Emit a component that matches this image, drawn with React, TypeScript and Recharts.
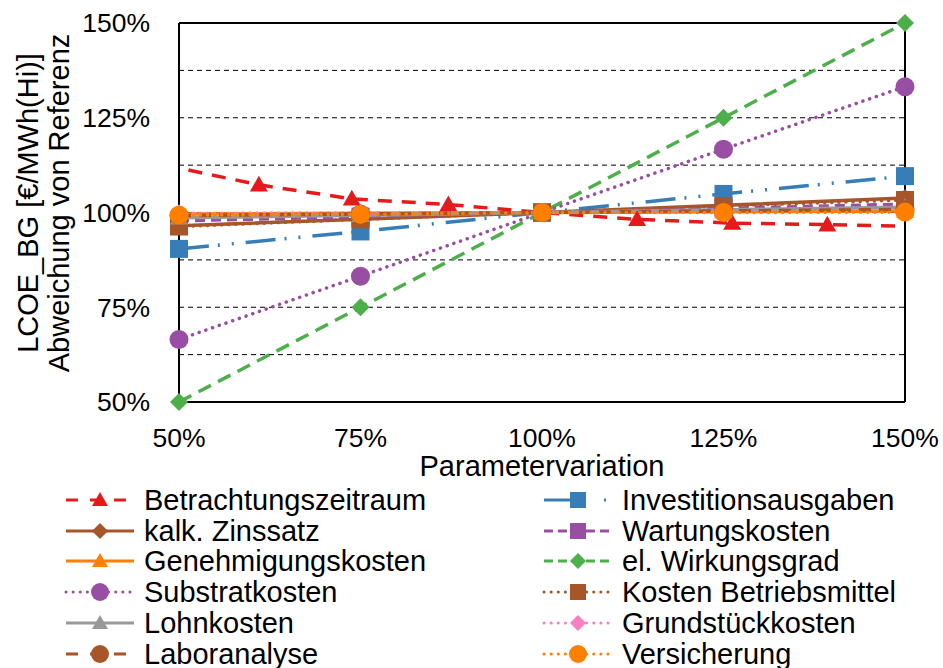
import React from 'react';
import { LineChart, Line, XAxis, YAxis, CartesianGrid, ReferenceLine } from 'recharts';

// Achsen
const xTicks = [50, 75, 100, 125, 150];
const yTicks = [50, 62.5, 75, 87.5, 100, 112.5, 125, 137.5, 150];
const xStd = [50, 75, 100, 125, 150];

// Betrachtungszeitraum hat eigene x-Stützstellen (Enden ohne Marker)
const betrachtungX = [51.3, 61, 73.8, 87.1, 100, 113.1, 126.2, 139.3, 149];
const betrachtungY = [111.2, 107.3, 103.6, 102.1, 100, 98.2, 97.2, 96.8, 96.4];

const investitionY = [90.4, 95, 100, 104.9, 109.6];
const zinssatzY = [96.5, 98.2, 100, 101.9, 103.8];
const wartungY = [97.8, 98.9, 100, 101.1, 102.2];
const genehmigungY = [99.6, 99.8, 100, 100.2, 100.4];
const wirkungsgradY = [50, 75, 100, 125, 150];
const substratY = [66.5, 83.2, 100, 116.7, 133.2];
const betriebsmittelY = [96.3, 98.2, 100, 101.7, 103.3];
const lohnY = [98.6, 99.3, 100, 100.7, 101.4];
const grundstueckY = [99.8, 99.9, 100, 100.1, 100.2];
const laborY = [99.2, 99.6, 100, 100.4, 100.8];
const versicherungY = [99.3, 99.5, 100, 100, 100.1];

const FONT = '"Liberation Sans", Arial, sans-serif';

type Shape = 'triangle' | 'square' | 'diamond' | 'circle';

interface Serie {
  name: string;
  xs: number[];
  ys: number[];
  color: string;
  dash?: string;
  legendDash?: string;
  round?: boolean;
  shape: Shape;
  hideEnds?: boolean;
}

const zip = (xs: number[], ys: number[]) => xs.map((x, i) => ({ x, y: ys[i] }));

// Legendenreihenfolge (zeilenweise, zwei Spalten)
const series: Serie[] = [
  { name: 'Betrachtungszeitraum', xs: betrachtungX, ys: betrachtungY, color: '#E41A1C', dash: '14 10', legendDash: '12 12', shape: 'triangle', hideEnds: true },
  { name: 'Investitionsausgaben', xs: xStd, ys: investitionY, color: '#377EB8', dash: '30 9 2 12 2 12', legendDash: '40 20 2 30', shape: 'square' },
  { name: 'kalk. Zinssatz', xs: xStd, ys: zinssatzY, color: '#A65628', shape: 'diamond' },
  { name: 'Wartungskosten', xs: xStd, ys: wartungY, color: '#984EA3', dash: '10 6', legendDash: '9 5', shape: 'square' },
  { name: 'Genehmigungskosten', xs: xStd, ys: genehmigungY, color: '#FF7F00', shape: 'triangle' },
  { name: 'el. Wirkungsgrad', xs: xStd, ys: wirkungsgradY, color: '#4DAF4A', dash: '14 8', legendDash: '9 5', shape: 'diamond' },
  { name: 'Substratkosten', xs: xStd, ys: substratY, color: '#984EA3', dash: '0.1 7', round: true, shape: 'circle' },
  { name: 'Kosten Betriebsmittel', xs: xStd, ys: betriebsmittelY, color: '#A65628', dash: '0.1 7', round: true, shape: 'square' },
  { name: 'Lohnkosten', xs: xStd, ys: lohnY, color: '#999999', shape: 'triangle' },
  { name: 'Grundstückkosten', xs: xStd, ys: grundstueckY, color: '#F781BF', dash: '0.1 7', round: true, shape: 'diamond' },
  { name: 'Laboranalyse', xs: xStd, ys: laborY, color: '#A65628', dash: '12 8', legendDash: '12 12', shape: 'circle' },
  { name: 'Versicherung', xs: xStd, ys: versicherungY, color: '#FF7F00', dash: '0.1 7', round: true, shape: 'circle' },
];

const Marker = ({ shape, cx, cy, size, color }: { shape: Shape; cx: number; cy: number; size: number; color: string }) => {
  const r = size / 2;
  if (shape === 'circle') return <circle cx={cx} cy={cy} r={r} fill={color} />;
  if (shape === 'square') return <rect x={cx - r} y={cy - r} width={size} height={size} fill={color} />;
  if (shape === 'diamond')
    return <polygon points={`${cx},${cy - r} ${cx + r},${cy} ${cx},${cy + r} ${cx - r},${cy}`} fill={color} />;
  return <polygon points={`${cx},${cy - r} ${cx + r},${cy + r * 0.75} ${cx - r},${cy + r * 0.75}`} fill={color} />;
};

const makeDot = (s: Serie) => (props: any) => {
  const { cx, cy, index } = props;
  if (s.hideEnds && (index === 0 || index === s.xs.length - 1)) return <g key={`d-${index}`} />;
  return (
    <g key={`d-${index}`}>
      <Marker shape={s.shape} cx={cx} cy={cy} size={s.shape === 'circle' ? 19 : 18} color={s.color} />
    </g>
  );
};

const YTitle = () => (
  <g fontFamily={FONT} fontSize={29} fill="#000">
    <text transform="translate(38, 203) rotate(-90)" textAnchor="middle">LCOE_BG [€/MWh(Hi)]</text>
    <text transform="translate(69, 203) rotate(-90)" textAnchor="middle">Abweichung von Referenz</text>
  </g>
);

const XTitle = (props: any) => {
  const vb = props.viewBox || {};
  return (
    <text x={vb.x + vb.width / 2} y={vb.y + 74} textAnchor="middle" fontFamily={FONT} fontSize={29} fill="#000">
      Parametervariation
    </text>
  );
};

const fmtY = (v: number) => (v % 25 === 0 ? `${v}%` : '');

const LegendIcon = ({ s }: { s: Serie }) => (
  <svg width={72} height={26} style={{ display: 'block' }}>
    <line
      x1={2}
      x2={70}
      y1={13}
      y2={13}
      stroke={s.color}
      strokeWidth={3}
      strokeDasharray={s.round ? '0.1 7' : s.legendDash}
      strokeLinecap={s.round ? 'round' : 'butt'}
    />
    <Marker shape={s.shape} cx={36} cy={13} size={s.shape === 'circle' ? 18 : 16} color={s.color} />
  </svg>
);

export default function App() {
  return (
    <div style={{ position: 'relative', width: 943, height: 668, background: '#fff' }}>
      <style>{'body{margin:0}'}</style>
      <LineChart width={943} height={668} margin={{ top: 23, right: 38, bottom: 0, left: 0 }}>
        <CartesianGrid vertical={false} stroke="#000" strokeDasharray="5 4" strokeWidth={1} />
        <XAxis
          type="number"
          dataKey="x"
          domain={[50, 150]}
          ticks={xTicks}
          tickFormatter={(v: number) => `${v}%`}
          height={266}
          tickLine={false}
          tickMargin={20}
          axisLine={{ stroke: '#000', strokeWidth: 2 }}
          tick={{ fill: '#000', fontSize: 26.5, fontFamily: FONT }}
          allowDuplicatedCategory={false}
          label={<XTitle />}
        />
        <YAxis
          type="number"
          domain={[50, 150]}
          ticks={yTicks}
          tickFormatter={fmtY}
          width={179}
          tickLine={false}
          tickMargin={23}
          axisLine={{ stroke: '#000', strokeWidth: 2 }}
          tick={{ fill: '#000', fontSize: 26.5, fontFamily: FONT }}
          interval={0}
          label={<YTitle />}
        />
        <ReferenceLine y={150} stroke="#000" strokeWidth={2} />
        <ReferenceLine x={150} stroke="#000" strokeWidth={2} />
        {series.map((s) => (
          <Line
            key={s.name}
            data={zip(s.xs, s.ys)}
            dataKey="y"
            name={s.name}
            stroke={s.color}
            strokeWidth={s.round ? 3.5 : 3.5}
            strokeDasharray={s.dash}
            strokeLinecap={s.round ? 'round' : 'butt'}
            dot={makeDot(s)}
            activeDot={false}
            isAnimationActive={false}
          />
        ))}
      </LineChart>
      {series.map((s, i) => {
        const col = i % 2;
        const row = Math.floor(i / 2);
        return (
          <div
            key={s.name}
            style={{
              position: 'absolute',
              left: col === 0 ? 64 : 542,
              top: 500 + row * 30.7 - 15,
              height: 30,
              display: 'flex',
              alignItems: 'center',
              fontFamily: FONT,
              fontSize: 29,
              color: '#000',
              whiteSpace: 'nowrap',
              lineHeight: '30px',
            }}
          >
            <LegendIcon s={s} />
            <span style={{ marginLeft: 8 }}>{s.name}</span>
          </div>
        );
      })}
    </div>
  );
}
